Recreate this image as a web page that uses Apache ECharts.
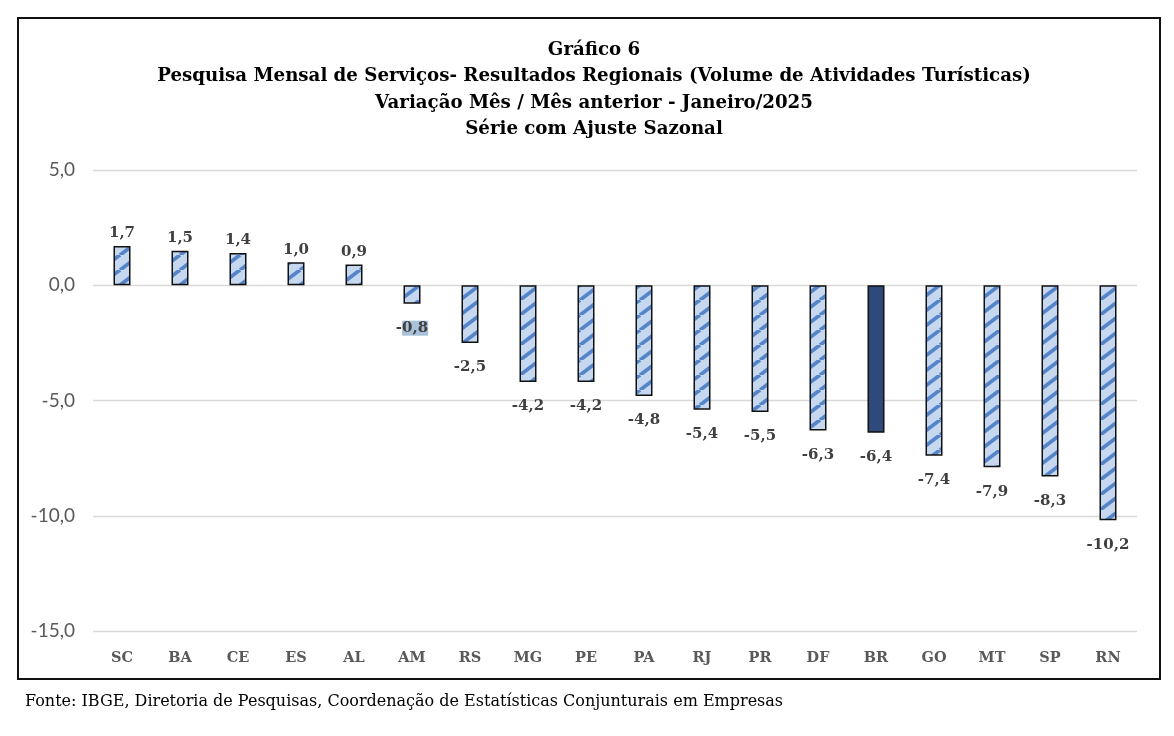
<!DOCTYPE html>
<html><head><meta charset="utf-8">
<script src="https://cdn.jsdelivr.net/npm/echarts@6/dist/echarts.min.js"></script>
<style>html,body{margin:0;padding:0;background:#fff}#c{width:1174px;height:736px}</style>
</head><body><div id="c"></div>
<script>
const categories = ['SC','BA','CE','ES','AL','AM','RS','MG','PE','PA','RJ','PR','DF','BR','GO','MT','SP','RN'];
const values = [1.7,1.5,1.4,1.0,0.9,-0.8,-2.5,-4.2,-4.2,-4.8,-5.4,-5.5,-6.3,-6.4,-7.4,-7.9,-8.3,-10.2];
const yTicks = [-15,-10,-5,0,5];
const titleLines = ['Gráfico 6','Pesquisa Mensal de Serviços- Resultados Regionais (Volume de Atividades Turísticas)','Variação Mês / Mês anterior - Janeiro/2025','Série com Ajuste Sazonal'];
const source = 'Fonte: IBGE, Diretoria de Pesquisas, Coordenação de Estatísticas Conjunturais em Empresas';
const highlighted = 'BR';

function makePattern(){
  const w = 20, h = 15;
  const cv = document.createElement('canvas');
  cv.width = w; cv.height = h;
  const g = cv.getContext('2d');
  g.fillStyle = '#c6d7f0'; g.fillRect(0,0,w,h);
  g.strokeStyle = '#5585c8'; g.lineWidth = 3.8;
  for (const o of [-w,0,w]) {
    g.beginPath(); g.moveTo(o, h); g.lineTo(o + w, 0); g.stroke();
  }
  return cv;
}
const pat = makePattern();
const fmt = v => v.toFixed(1).replace('.', ',');
const serif = '"DejaVu Serif", "Liberation Serif", serif';

const data = values.map((v,i) => {
  const isHi = categories[i] === highlighted;
  const item = {
    value: v,
    itemStyle: isHi ? {color:'#2d4a7b'} : {color:{image: pat, repeat:'repeat'}},
    label: { position: v >= 0 ? 'top' : 'bottom', distance: v >= 0 ? 5 : 17 }
  };
  if (v === -0.8) {
    item.label.formatter = '-{h|0,8}';
  }
  return item;
});

const chart = echarts.init(document.getElementById('c'));
chart.setOption({
  animation: false,
  backgroundColor: '#fff',
  title: {
    text: titleLines.join('\n'),
    left: 589, top: 32, textAlign: 'center',
    textStyle: {fontFamily: serif, fontWeight: 'bold', fontSize: 18.2, lineHeight: 26.5, color: '#000'}
  },
  grid: {left: 93, right: 37, top: 170, bottom: 105, containLabel: false},
  xAxis: {
    type: 'category', data: categories,
    axisLine: {show: false}, axisTick: {show: false},
    axisLabel: {fontFamily: serif, fontWeight: 'bold', fontSize: 14.5, color: '#595959', margin: 20}
  },
  yAxis: {
    type: 'value', min: -15, max: 5, interval: 5,
    axisLine: {show: false}, axisTick: {show: false},
    splitLine: {lineStyle: {color: '#d9d9d9', width: 1.3}},
    axisLabel: {fontFamily: 'Lato, "Open Sans", sans-serif', fontSize: 19, color: '#595959', margin: 18,
      formatter: v => yTicks.includes(v) ? fmt(v) : ''}
  },
  series: [{
    type: 'bar', data: data, barWidth: 17,
    itemStyle: {borderColor: '#111', borderWidth: 1.5},
    label: {show: true, formatter: p => fmt(p.value), fontFamily: serif, fontWeight: 'bold', fontSize: 15, color: '#404040',
      rich: {h: {backgroundColor: '#a9c1d9', fontFamily: serif, fontWeight: 'bold', fontSize: 15, color: '#404040'}}}
  }],
  graphic: [
    {type: 'rect', shape: {x: 18, y: 18, width: 1142, height: 661}, style: {fill: 'none', stroke: '#111', lineWidth: 2}, silent: true},
    {type: 'text', left: 25, top: 694, style: {text: source, font: '16px ' + serif, fill: '#000'}}
  ]
});
</script></body></html>
